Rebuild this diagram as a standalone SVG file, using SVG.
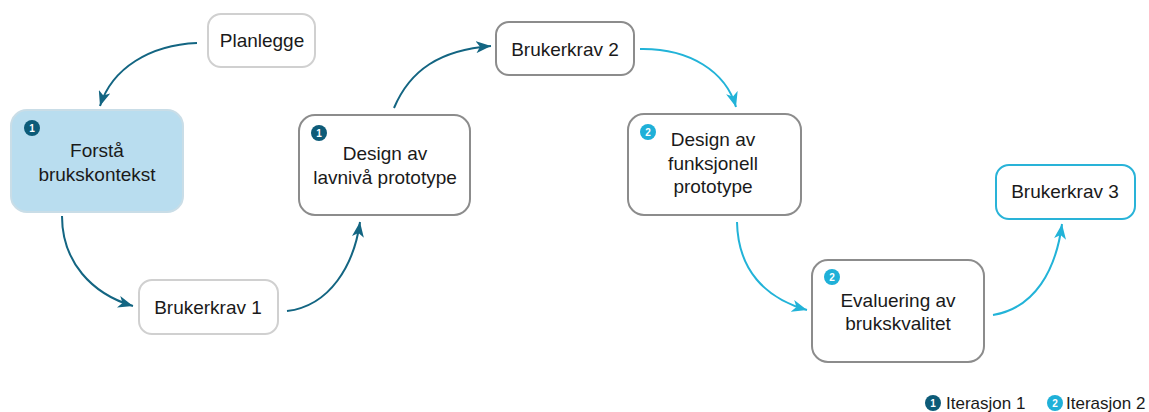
<svg xmlns="http://www.w3.org/2000/svg" width="1149" height="412" viewBox="0 0 1149 412">
  <style>
    .box { fill: #ffffff; stroke-width: 2; }
    .light { stroke: #d0d0d0; }
    .mid { stroke: #8c8c8c; }
    .cyanbox { stroke: #29b3d8; }
    .ctx { fill: #b9ddef; stroke: #c9dde7; stroke-width: 2; }
    .lbl { font-family: "Liberation Sans", Arial, sans-serif; font-size: 19px; fill: #1a1a1a; text-anchor: middle; }
    .leg { font-family: "Liberation Sans", Arial, sans-serif; font-size: 17px; fill: #1a1a1a; }
    .b1 { fill: #0d5b78; }
    .b2 { fill: #1fb0d8; }
    .bn { font-family: "Liberation Sans", Arial, sans-serif; font-size: 10px; font-weight: bold; fill: #ffffff; text-anchor: middle; }
    .c1 { fill: none; stroke: #136582; stroke-width: 2; marker-end: url(#ah1); }
    .c2 { fill: none; stroke: #22b3d8; stroke-width: 2; marker-end: url(#ah2); }
  </style>
  <defs>
    <marker id="ah1" markerUnits="userSpaceOnUse" markerWidth="16" markerHeight="12" refX="15" refY="6" orient="auto">
      <path d="M0,0 L15,6 L0,12 L4,6 z" fill="#136582"/>
    </marker>
    <marker id="ah2" markerUnits="userSpaceOnUse" markerWidth="16" markerHeight="12" refX="15" refY="6" orient="auto">
      <path d="M0,0 L15,6 L0,12 L4,6 z" fill="#22b3d8"/>
    </marker>
  </defs>
  <rect width="1149" height="412" fill="#ffffff"/>

  <!-- connectors -->
  <g id="connectors">
    <path class="c1" d="M197,43 C150,45 112,68 100,106"/>
    <path class="c1" d="M62,216 C62,262 92,294 133,306"/>
    <path class="c1" d="M287,311 C330,306 354,265 360,222"/>
    <path class="c1" d="M394,108 C410,70 440,50 491,46"/>
    <path class="c2" d="M640,49 C690,48 726,72 736,107"/>
    <path class="c2" d="M737,222 C738,270 765,298 807,310"/>
    <path class="c2" d="M993,315 C1035,308 1056,270 1062,224"/>
  </g>

  <g id="planlegge">
    <rect class="box light" x="208" y="14" width="107" height="53" rx="13"/>
    <text class="lbl" x="262" y="47">Planlegge</text>
  </g>

  <g id="forsta">
    <rect class="ctx" x="11" y="110" width="172" height="102" rx="16"/>
    <circle class="b1" cx="32" cy="128" r="8"/>
    <text class="bn" x="32" y="132">1</text>
    <text class="lbl" x="97" y="157">Forstå</text>
    <text class="lbl" x="97" y="181">brukskontekst</text>
  </g>

  <g id="brukerkrav1">
    <rect class="box light" x="139" y="280" width="139" height="54" rx="13"/>
    <text class="lbl" x="208" y="314">Brukerkrav 1</text>
  </g>

  <g id="lavniva">
    <rect class="box mid" x="299" y="115" width="171" height="100" rx="16"/>
    <circle class="b1" cx="319" cy="133" r="8"/>
    <text class="bn" x="319" y="137">1</text>
    <text class="lbl" x="385" y="160">Design av</text>
    <text class="lbl" x="385" y="184">lavnivå prototype</text>
  </g>

  <g id="brukerkrav2">
    <rect class="box mid" x="496" y="22" width="138" height="53" rx="13"/>
    <text class="lbl" x="565" y="56">Brukerkrav 2</text>
  </g>

  <g id="funksjonell">
    <rect class="box mid" x="628" y="114" width="173" height="101" rx="16"/>
    <circle class="b2" cx="648" cy="132" r="8"/>
    <text class="bn" x="648" y="136">2</text>
    <text class="lbl" x="713" y="146">Design av</text>
    <text class="lbl" x="713" y="170">funksjonell</text>
    <text class="lbl" x="713" y="193">prototype</text>
  </g>

  <g id="evaluering">
    <rect class="box mid" x="812" y="260" width="172" height="102" rx="16"/>
    <circle class="b2" cx="832" cy="277" r="8"/>
    <text class="bn" x="832" y="281">2</text>
    <text class="lbl" x="898" y="307">Evaluering av</text>
    <text class="lbl" x="898" y="330">brukskvalitet</text>
  </g>

  <g id="brukerkrav3">
    <rect class="box cyanbox" x="996" y="165" width="139" height="54" rx="13"/>
    <text class="lbl" x="1065" y="198">Brukerkrav 3</text>
  </g>

  <g id="legend">
    <circle class="b1" cx="933" cy="403" r="8"/>
    <text class="bn" x="933" y="407">1</text>
    <text class="leg" x="946" y="409">Iterasjon 1</text>
    <circle class="b2" cx="1055" cy="403" r="8"/>
    <text class="bn" x="1055" y="407">2</text>
    <text class="leg" x="1066" y="409">Iterasjon 2</text>
  </g>
</svg>
